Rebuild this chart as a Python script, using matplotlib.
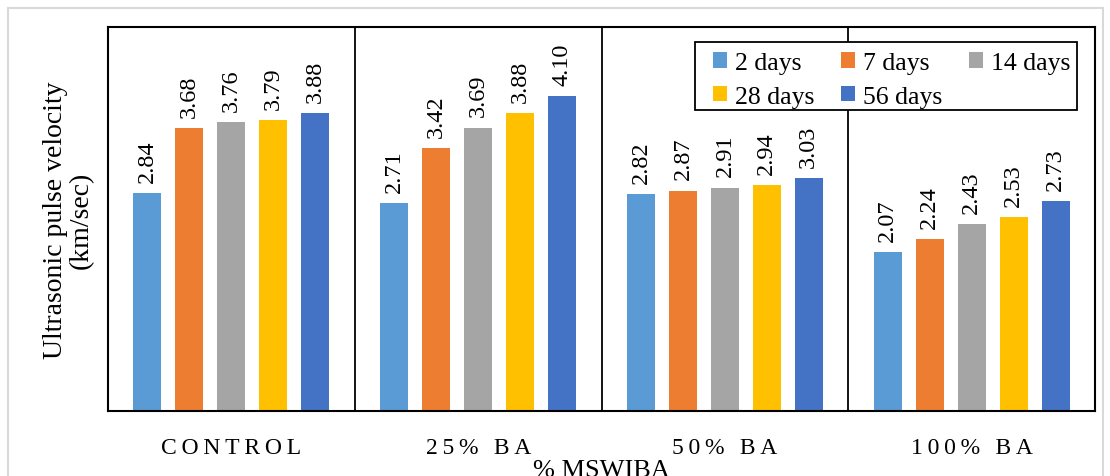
import numpy as np
import matplotlib
matplotlib.use("Agg")
import matplotlib.pyplot as plt
from matplotlib.patches import Rectangle

categories = ["CONTROL", "25% BA", "50% BA", "100% BA"]
series_names = ["2 days", "7 days", "14 days", "28 days", "56 days"]
colors = ["#5B9BD5", "#ED7D31", "#A5A5A5", "#FFC000", "#4472C4"]

day2 = [2.84, 2.71, 2.82, 2.07]
day7 = [3.68, 3.42, 2.87, 2.24]
day14 = [3.76, 3.69, 2.91, 2.43]
day28 = [3.79, 3.88, 2.94, 2.53]
day56 = [3.88, 4.10, 3.03, 2.73]
all_series = [day2, day7, day14, day28, day56]

plt.rcParams['font.family'] = ['Liberation Serif', 'DejaVu Serif']

W, H = 1110, 477
fig = plt.figure(figsize=(W / 100, H / 100), dpi=100)
ax = fig.add_axes([108 / W, 1 - 412 / H, 987 / W, 384 / H])

# outer light frame of the chart area
fig.patches.append(Rectangle((8 / W, -0.1), 1095 / W, 1.1 - 9 / H,
                             transform=fig.transFigure, fill=False,
                             edgecolor="#d9d9d9", linewidth=1.5))

x = np.arange(len(categories)) + 0.5
step = 0.170
width = 0.1135
handles = []
for i, (vals, name, col) in enumerate(zip(all_series, series_names, colors)):
    pos = x + (i - 2) * step
    b = ax.bar(pos, vals, width=width, color=col, label=name)
    handles.append(b)
    for xp, v in zip(pos, vals):
        ax.annotate(f"{v:.2f}", (xp, v), xytext=(0, 8), textcoords="offset points",
                    rotation=90, ha="center", va="bottom", fontsize=17.5)

ax.set_xlim(0, 4)
ax.set_ylim(0, 5.0)
ax.set_yticks([])
for sep in [1, 2, 3]:
    ax.axvline(sep, color="black", linewidth=1.3)
for s in ax.spines.values():
    s.set_color("black")
    s.set_linewidth(1.5)

spaced = ["\u2009".join(c) for c in categories]
ax.set_xticks(x)
ax.set_xticklabels(spaced, fontsize=17)
ax.tick_params(axis="x", length=0, pad=19)

ax.set_ylabel("Ultrasonic pulse velocity\n(km/sec)", fontsize=20, labelpad=10,
              linespacing=1.05)
fig.text(601 / W, 1 - 460 / H, "% MSWIBA", ha="center", va="top", fontsize=19)

# legend: entries without frame, box drawn separately
order = [0, 3, 1, 4, 2]
leg = fig.legend([handles[k] for k in order], [series_names[k] for k in order],
                 ncol=3, loc="upper left", bbox_to_anchor=(713 / W, 1 - 53 / H),
                 borderaxespad=0, fontsize=18.5, frameon=False,
                 handlelength=0.55, handleheight=0.55, handletextpad=0.3,
                 columnspacing=1.05, borderpad=0, labelspacing=0.45)
fig.patches.append(Rectangle((695 / W, 1 - 111 / H), 382 / W, 68 / H,
                             transform=fig.transFigure, facecolor="white",
                             edgecolor="black", linewidth=1.3, zorder=4))
leg.set_zorder(5)

fig.savefig("out.png", dpi=100)
